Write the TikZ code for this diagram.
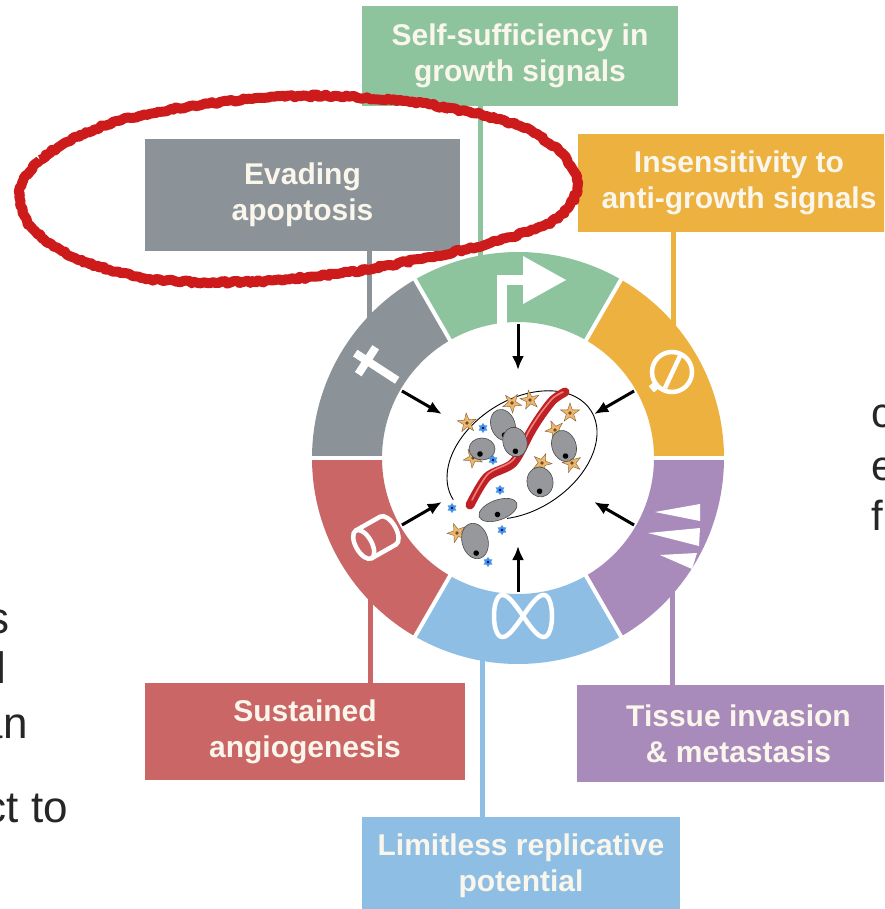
\documentclass[tikz,border=0pt]{standalone}
\usepackage{fontspec}
\setmainfont{Liberation Sans}
\usetikzlibrary{arrows.meta,shapes.geometric,decorations.pathmorphing}

\definecolor{growthgreen}{RGB}{141,196,158}
\definecolor{apopgray}{RGB}{139,147,152}
\definecolor{antiyellow}{RGB}{236,177,62}
\definecolor{angiored}{RGB}{203,102,102}
\definecolor{invpurple}{RGB}{169,139,187}
\definecolor{repblue}{RGB}{142,190,228}
\definecolor{boxtext}{RGB}{250,246,236}
\definecolor{penred}{RGB}{205,26,26}
\definecolor{cellgray}{RGB}{150,152,155}
\definecolor{stromaorange}{RGB}{236,184,112}
\definecolor{immuneblue}{RGB}{70,150,225}
\definecolor{vesselred}{RGB}{190,32,38}
\definecolor{vessellight}{RGB}{238,130,120}

\begin{document}
\begin{tikzpicture}[x=1pt,y=1pt,
  box/.style={inner sep=0pt,align=center,text=boxtext,font=\fontsize{30}{36}\selectfont\bfseries},
  link/.style={line width=5pt},
  inarrow/.style={line width=3pt,-{Latex[length=14pt,width=12pt]}},
  icon/.style={draw=white,line width=4.5pt},
  cell/.style={fill=cellgray,draw=black!70,line width=0.6pt},
  stroma/.style={star,star points=5,star point ratio=2.6,minimum size=20pt,inner sep=0pt,fill=stromaorange,draw=brown!70!black,line width=0.4pt},
  immune/.style={star,star points=6,star point ratio=1.6,minimum size=10pt,inner sep=0pt,fill=immuneblue},
  slide/.style={font=\fontsize{44}{50}\selectfont,inner sep=0pt,text=black!85}]

\useasboundingbox (0,0) rectangle (884,-909);
\clip (0,0) rectangle (884,-909);
\fill[white] (0,0) rectangle (884,-909);

% the six hallmark boxes
\node[box,fill=growthgreen,minimum width=316pt,minimum height=100pt] (growth) at (520,-56) {Self-sufficiency in\\growth signals};
\node[box,fill=apopgray,minimum width=315pt,minimum height=112pt] (apoptosis) at (302.5,-195) {Evading\\apoptosis};
\node[box,fill=antiyellow,minimum width=322pt,minimum height=98pt] (antigrowth) at (739,-183) {Insensitivity to\\anti-growth signals};
\node[box,fill=angiored,minimum width=320pt,minimum height=97pt] (angio) at (305,-731.5) {Sustained\\angiogenesis};
\node[box,fill=invpurple,minimum width=323pt,minimum height=97pt] (invasion) at (738.5,-733.5) {Tissue invasion\\\& metastasis};
\node[box,fill=repblue,minimum width=318pt,minimum height=98pt] (replic) at (521,-866) {Limitless replicative\\potential};

% pins on the ring where the box lines end
\coordinate (hub) at (518,-458);
\coordinate (growthpin) at (480,-264);
\coordinate (apoptosispin) at (369,-324);
\coordinate (antigrowthpin) at (673,-330);
\coordinate (angiopin) at (370,-592);
\coordinate (invasionpin) at (672,-586);
\coordinate (replicpin) at (482,-652);

\draw[link,growthgreen] (growth.south -| growthpin) -- (growthpin);
\draw[link,apopgray] (apoptosis.south -| apoptosispin) -- (apoptosispin);
\draw[link,antiyellow] (antigrowth.south -| antigrowthpin) -- (antigrowthpin);
\draw[link,angiored] (angio.north -| angiopin) -- (angiopin);
\draw[link,invpurple] (invasion.north -| invasionpin) -- (invasionpin);
\draw[link,repblue] (replic.north -| replicpin) -- (replicpin);

% ring of six segments
\begin{scope}[shift={(hub)}]
  \foreach \a/\c in {0/antiyellow,60/growthgreen,120/apopgray,180/angiored,240/repblue,300/invpurple}
    \fill[\c] (\a:206) arc[start angle=\a,end angle=\a+60,radius=206]
      -- ({\a+60}:136) arc[start angle=\a+60,end angle=\a,radius=136] -- cycle;
  \foreach \a in {0,60,...,300}
    \draw[white,line width=4pt] (\a:130) -- (\a:212);
  % arrows onto the tumour
  \foreach \a in {30,90,...,330}
    \draw[inarrow] (\a:134) -- (\a:88);
\end{scope}

% icons on the segments
\draw[icon,line width=10pt,line join=miter] (502,-332) -- (502,-280) -- (526,-280);
\fill[white] (523,-256) -- (566,-280) -- (523,-304) -- cycle;

\draw[icon] (672,-372) circle[radius=20];
\draw[icon] (665,-388) -- (680,-356);
\draw[icon,line width=8pt] (672,-372) ++(220:19) -- ++(220:8);

\begin{scope}[shift={(372,-364)},rotate=-33]
  \draw[icon,line width=8pt] (-20,0) -- (30,0);
  \draw[icon,line width=8pt] (-6,-16) -- (-6,16);
\end{scope}

\begin{scope}[shift={(375,-538)},rotate=29.5]
  \draw[icon] (-13,0) ellipse[x radius=8,y radius=16];
  \draw[icon] (-13,16) -- (15,16) arc[start angle=90,end angle=-90,x radius=8,y radius=16] -- (-13,-16);
\end{scope}

\fill[white] (655,-512) -- (700,-504) -- (700,-521) -- cycle;
\fill[white] (648,-533) -- (700,-528) -- (699,-546) -- cycle;
\fill[white] (660,-555) -- (697,-553) -- (692,-569) -- cycle;

\draw[icon] plot[domain=0:360,samples=121,variable=\t] ({523+29*sin(\t)},{-616+21*sin(2*\t)});

% tumour in the middle
\begin{scope}[shift={(522,-455)},rotate=33]
  \draw[line width=0.9pt] (235:82 and 55) arc[start angle=235,end angle=540,x radius=82,y radius=55];
\end{scope}

\foreach \x/\y/\r [count=\i] in {530/-400/10,512/-403/40,570/-413/0,555/-430/25,572/-463/15,542/-463/50,473/-458/30,467/-423/5,457/-533/20}
  {\node[stroma,rotate=\r] (stroma\i) at (\x,\y) {};
   \fill[brown!60!black] (\x,\y) circle[radius=1.8];}

\draw[vesselred,line width=9pt,line cap=round] plot[smooth] coordinates {(470,-505) (487,-477) (513,-463) (530,-433) (540,-417) (553,-400) (565,-392)};
\draw[vessellight,line width=1.6pt,line cap=round] plot[smooth] coordinates {(472,-500) (488,-474) (513,-460) (529,-431) (540,-414) (553,-398) (563,-392)};

\foreach \x/\y/\a/\b/\r in {503/-425/12/16/20,482/-449/13/11/0,515/-442/12/15/15,564/-446/12/16/20,540/-482/13/15/10,498/-510/20/10/20,475/-541/13/18/15}
  {\begin{scope}[shift={(\x,\y)},rotate=\r]
     \filldraw[cell] (0,0) ellipse[x radius=\a,y radius=\b];
     \fill[black] (-2,{-\b+6}) circle[radius=2.8];
   \end{scope}}

\foreach \x/\y [count=\i] in {483/-428,493/-460,500/-490,452/-508,502/-530,488/-562}
  {\node[immune] (immune\i) at (\x,\y) {};
   \fill[blue!60!black] (\x,\y) circle[radius=1.4];}

% hand-drawn ring round the apoptosis box
\draw[penred,line width=10pt,line join=round,decorate,decoration={random steps,segment length=3pt,amplitude=1.4pt}]
  plot[smooth cycle] coordinates {(19,-192) (40,-160) (80,-135) (130,-118) (190,-106) (262,-98) (337,-96) (410,-102) (470,-112) (524,-128) (560,-152) (578,-182) (568,-208) (543,-226) (490,-243) (431,-257) (337,-274) (243,-282) (150,-279) (75,-258) (32,-228)};

% slide text cut by the page edges
\node[slide,anchor=base east] (leftA) at (10,-633) {s};
\node[slide,anchor=base east] (leftB) at (6,-683) {l};
\node[slide,anchor=base east] (leftC) at (28,-738) {an};
\node[slide,anchor=base east] (leftD) at (68,-822) {ct to};
\node[slide,anchor=base west,font=\fontsize{42}{48}\selectfont] (rightA) at (871,-427) {c};
\node[slide,anchor=base west,font=\fontsize{42}{48}\selectfont] (rightB) at (871,-480) {e};
\node[slide,anchor=base west,font=\fontsize{42}{48}\selectfont] (rightC) at (871,-530) {f};
\end{tikzpicture}
\end{document}
